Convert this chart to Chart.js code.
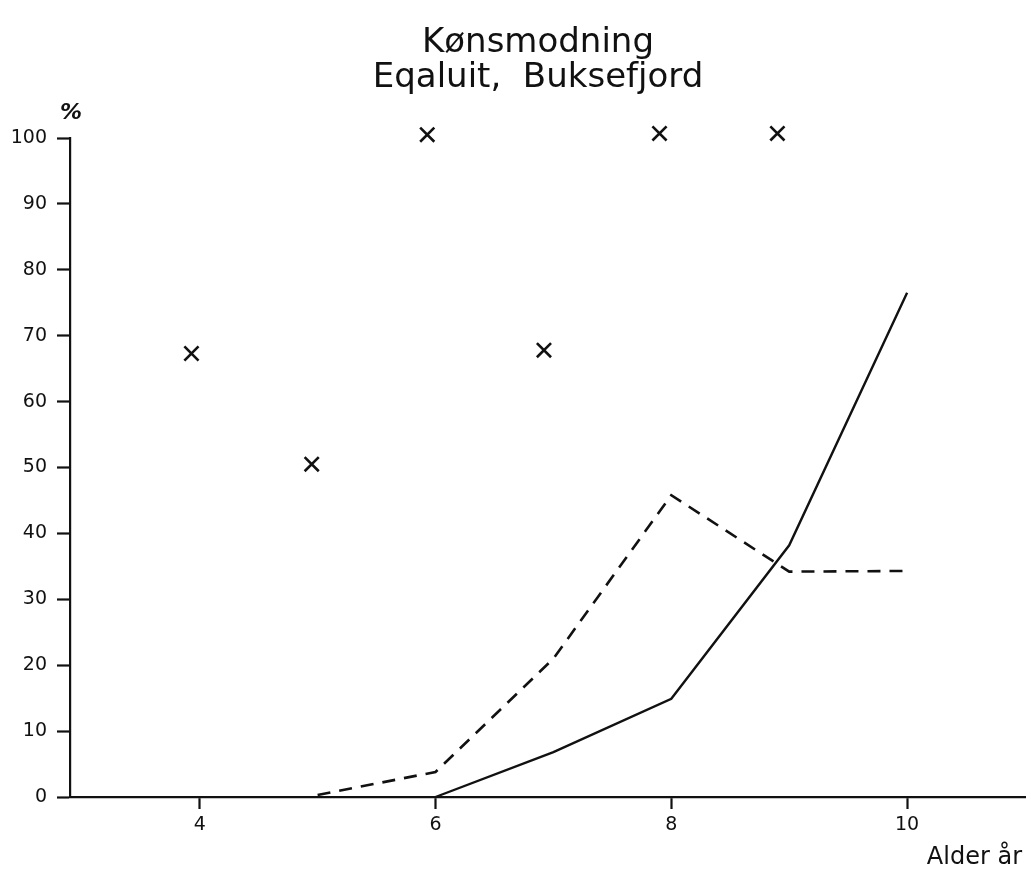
<!DOCTYPE html>
<html>
<head>
<meta charset="utf-8">
<title>Kønsmodning</title>
<script src="https://cdn.jsdelivr.net/npm/chart.js@4/dist/chart.umd.min.js"></script>
<style>
    html, body { margin: 0; padding: 0; background: #fff; }
    #wrap { width: 1031px; height: 872px; position: relative; }
</style>
</head>
<body>
<div id="wrap"><canvas id="maturityChart" width="1031" height="872"></canvas></div>
<script>
// Kønsmodning, Eqaluit - Buksefjord
const titleLines = ['Kønsmodning', 'Eqaluit,  Buksefjord'];
const xAxisTitle = 'Alder år';
const yAxisTitle = '%';

const xTicks = [4, 6, 8, 10];
const yStep = 10;

// solid curve
const solidAges = [6, 7, 8, 9, 10];
const solidValues = [0, 6.8, 14.9, 38.2, 76.5];

// dashed curve
const dashedAges = [5, 6, 7, 8, 9, 10];
const dashedValues = [0.3, 3.8, 21, 45.8, 34.2, 34.3];

// crosses
const crossAges = [3.93, 4.95, 5.93, 6.92, 7.9, 8.9];
const crossValues = [67.3, 50.5, 100.5, 67.8, 100.7, 100.7];

const ink = '#111';
const font = 'DejaVu Sans';

function toPoints(xs, ys) {
    return xs.map((x, i) => ({ x: x, y: ys[i] }));
}

// texts around the plot
const labelsPlugin = {
    id: 'labels',
    afterDraw(chart) {
        const ctx = chart.ctx;
        const area = chart.chartArea;
        ctx.save();
        ctx.fillStyle = ink;
        ctx.textAlign = 'center';
        ctx.textBaseline = 'alphabetic';
        ctx.font = '34px "' + font + '"';
        const cx = 538;
        ctx.fillText(titleLines[0], cx, 52);
        ctx.fillText(titleLines[1], cx, 87);

        ctx.font = 'italic bold 22px "' + font + '"';
        ctx.fillText(yAxisTitle, area.left + 1, area.top - 19);

        ctx.textAlign = 'right';
        ctx.font = '24px "' + font + '"';
        ctx.fillText(xAxisTitle, 1022, 864);
        ctx.restore();
    }
};

document.addEventListener('DOMContentLoaded', function() {
    const ctx = document.getElementById('maturityChart').getContext('2d');
    new Chart(ctx, {
        type: 'scatter',
        data: {
            datasets: [
                {
                    data: toPoints(solidAges, solidValues),
                    showLine: true,
                    borderColor: ink,
                    borderWidth: 2.4,
                    pointRadius: 0,
                    tension: 0
                },
                {
                    data: toPoints(dashedAges, dashedValues),
                    showLine: true,
                    borderColor: ink,
                    borderWidth: 2.6,
                    borderDash: [13, 9],
                    pointRadius: 0,
                    tension: 0
                },
                {
                    data: toPoints(crossAges, crossValues),
                    showLine: false,
                    pointStyle: 'crossRot',
                    pointRadius: 10,
                    borderColor: ink,
                    borderWidth: 2.6,
                    pointBorderWidth: 2.6
                }
            ]
        },
        options: {
            responsive: false,
            animation: false,
            clip: false,
            layout: {
                autoPadding: false,
                padding: { top: 138, right: 6, left: 0, bottom: 0 }
            },
            plugins: {
                legend: { display: false },
                tooltip: { enabled: false },
                title: { display: false }
            },
            scales: {
                x: {
                    type: 'linear',
                    min: 2.9,
                    max: 11,
                    afterBuildTicks(scale) {
                        scale.ticks = xTicks.map(v => ({ value: v }));
                    },
                    afterFit(scale) {
                        scale.height = 75;
                        scale.paddingLeft = 0;
                        scale.paddingRight = 0;
                    },
                    border: { display: true, color: ink, width: 2.2 },
                    grid: {
                        drawOnChartArea: false,
                        drawTicks: true,
                        tickLength: 12,
                        tickWidth: 2.2,
                        tickColor: ink
                    },
                    ticks: {
                        color: ink,
                        padding: 5,
                        font: { family: font, size: 19 }
                    }
                },
                y: {
                    min: 0,
                    max: 100,
                    afterFit(scale) {
                        scale.width = 70;
                        scale.paddingTop = 0;
                        scale.paddingBottom = 0;
                    },
                    border: { display: true, color: ink, width: 2.2 },
                    grid: {
                        drawOnChartArea: false,
                        drawTicks: true,
                        tickLength: 13,
                        tickWidth: 2.2,
                        tickColor: ink
                    },
                    ticks: {
                        stepSize: yStep,
                        color: ink,
                        padding: 10,
                        font: { family: font, size: 19 }
                    }
                }
            }
        },
        plugins: [labelsPlugin]
    });
});
</script>
</body>
</html>
